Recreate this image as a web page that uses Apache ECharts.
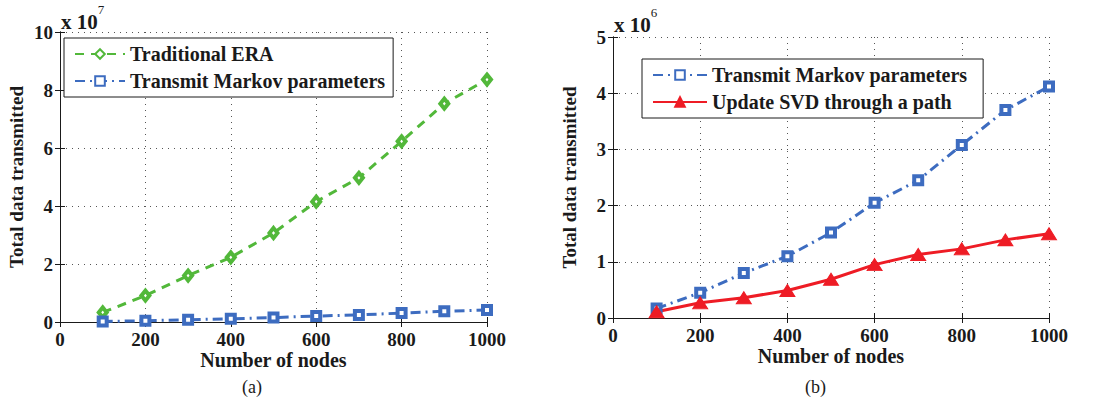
<!DOCTYPE html>
<html><head><meta charset="utf-8">
<script src="https://cdn.jsdelivr.net/npm/echarts@6/dist/echarts.min.js"></script>
<style>html,body{margin:0;padding:0;background:#fff}#c{width:1093px;height:404px}</style>
</head><body><div id="c"></div>
<script>
// ---- data ----
const nodes = [100, 200, 300, 400, 500, 600, 700, 800, 900, 1000];
// panel (a), units of 1e7
const traditionalERA = [0.33, 0.91, 1.60, 2.23, 3.07, 4.15, 4.97, 6.23, 7.53, 8.36];
const markovA = [0.017, 0.045, 0.080, 0.110, 0.152, 0.205, 0.245, 0.308, 0.370, 0.412];
// panel (b), units of 1e6
const markovB = [0.17, 0.45, 0.80, 1.10, 1.52, 2.05, 2.45, 3.08, 3.70, 4.12];
const svdPath = [0.11, 0.27, 0.36, 0.49, 0.69, 0.95, 1.13, 1.23, 1.39, 1.50];
const xTicks = [0, 200, 400, 600, 800, 1000];
const yTicksA = [0, 2, 4, 6, 8, 10];
const yTicksB = [0, 1, 2, 3, 4, 5];

const FONT = '"Liberation Serif","Times New Roman",serif';
const GREEN = '#52b83a', BLUE = '#3d6cc0', RED = '#ee1c25', INK = '#1a1a1a';

function pairs(xs, ys){ return xs.map((x,i)=>[x, ys[i]]); }

const tickLab = {fontFamily: FONT, fontWeight: 'bold', fontSize: 19, color: INK, formatter: v => String(v)};
function xAxisMain(gi){
  return {gridIndex: gi, type: 'value', min: xTicks[0], max: xTicks[xTicks.length-1], interval: 200,
    name: 'Number of nodes', nameLocation: 'middle', nameGap: 28, nameMoveOverlap: false,
    nameTextStyle: {fontFamily: FONT, fontWeight: 'bold', fontSize: 20, color: INK},
    axisLine: {show: true, lineStyle: {color: INK, width: 1}},
    axisTick: {show: true, inside: true, length: 5, lineStyle: {color: INK}},
    axisLabel: Object.assign({margin: 8}, tickLab),
    splitLine: {show: true, lineStyle: {color: '#555', type: [1, 5], width: 1}}};
}
function xAxisTop(gi){
  return {gridIndex: gi, type: 'value', position: 'top', min: xTicks[0], max: xTicks[xTicks.length-1], interval: 200,
    axisLine: {show: true, lineStyle: {color: INK, width: 1}},
    axisTick: {show: true, inside: true, length: 5, lineStyle: {color: INK}},
    axisLabel: {show: false}, splitLine: {show: false}};
}
function yAxisMain(gi, ticks, interval){
  return {gridIndex: gi, type: 'value', min: ticks[0], max: ticks[ticks.length-1], interval: interval,
    name: 'Total data transmitted', nameLocation: 'middle', nameGap: 34, nameRotate: 90, nameMoveOverlap: false,
    nameTextStyle: {fontFamily: FONT, fontWeight: 'bold', fontSize: 19, color: INK},
    axisLine: {show: true, lineStyle: {color: INK, width: 1}},
    axisTick: {show: true, inside: true, length: 5, lineStyle: {color: INK}},
    axisLabel: Object.assign({margin: 7}, tickLab),
    splitLine: {show: true, lineStyle: {color: '#555', type: [1, 5], width: 1}}};
}
function yAxisRight(gi, ticks, interval){
  return {gridIndex: gi, type: 'value', position: 'right', min: ticks[0], max: ticks[ticks.length-1], interval: interval,
    axisLine: {show: true, lineStyle: {color: INK, width: 1}},
    axisTick: {show: true, inside: true, length: 5, lineStyle: {color: INK}},
    axisLabel: {show: false}, splitLine: {show: false}};
}

const legendText = {fontFamily: FONT, fontWeight: 'bold', fontSize: 20, color: INK};

const option = {
  animation: false,
  backgroundColor: '#fff',
  grid: [
    {left: 60, right: 606, top: 32, bottom: 82},
    {left: 613, right: 44, top: 37, bottom: 86}
  ],
  xAxis: [xAxisMain(0), xAxisTop(0), xAxisMain(1), xAxisTop(1)],
  yAxis: [yAxisMain(0, yTicksA, 2), yAxisRight(0, yTicksA, 2), yAxisMain(1, yTicksB, 1), yAxisRight(1, yTicksB, 1)],
  legend: [
    {orient: 'vertical', left: 64, top: 38, padding: [6, 8, 6, 10], itemGap: 7,
     itemWidth: 50, itemHeight: 12, borderColor: INK, borderWidth: 1, backgroundColor: '#fff',
     textStyle: legendText, data: ['Traditional ERA', 'Transmit Markov parameters (a)'],
     formatter: n => n.replace(' (a)', '')},
    {orient: 'vertical', left: 642, top: 59, padding: [6, 16, 6, 10], itemGap: 7,
     itemWidth: 54, itemHeight: 12, borderColor: INK, borderWidth: 1, backgroundColor: '#fff',
     textStyle: legendText, data: ['Transmit Markov parameters', 'Update SVD through a path']}
  ],
  graphic: [
    {type: 'text', left: 61, top: 3, style: {rich: {b: {fontFamily: FONT, fontWeight: 'bold', fontSize: 21, fill: INK, padding: [8,0,0,0]}, s: {fontFamily: FONT, fontSize: 13, fill: INK, verticalAlign: 'top'}}, text: '{b|x 10}{s|7}'}},
    {type: 'text', left: 614, top: 6, style: {rich: {b: {fontFamily: FONT, fontWeight: 'bold', fontSize: 21, fill: INK, padding: [8,0,0,0]}, s: {fontFamily: FONT, fontSize: 13, fill: INK, verticalAlign: 'top'}}, text: '{b|x 10}{s|6}'}},
    {type: 'text', left: 242, top: 378, style: {text: '(a)', fontFamily: FONT, fontSize: 18, fill: INK}},
    {type: 'text', left: 805, top: 378, style: {text: '(b)', fontFamily: FONT, fontSize: 18, fill: INK}}
  ],
  series: [
    {name: 'Traditional ERA', type: 'line', xAxisIndex: 0, yAxisIndex: 0, data: pairs(nodes, traditionalERA),
     symbol: 'diamond', symbolSize: [8, 10], itemStyle: {color: '#fff', borderColor: GREEN, borderWidth: 4},
     lineStyle: {color: GREEN, width: 3, type: [9, 7]}, color: GREEN, z: 3},
    {name: 'Transmit Markov parameters (a)', type: 'line', xAxisIndex: 0, yAxisIndex: 0, data: pairs(nodes, markovA),
     symbol: 'rect', symbolSize: 8, itemStyle: {color: '#fff', borderColor: BLUE, borderWidth: 4},
     lineStyle: {color: BLUE, width: 3, type: [10, 5, 2, 5]}, color: BLUE, z: 3},
    {name: 'Transmit Markov parameters', type: 'line', xAxisIndex: 2, yAxisIndex: 2, data: pairs(nodes, markovB),
     symbol: 'rect', symbolSize: 8, itemStyle: {color: '#fff', borderColor: BLUE, borderWidth: 4},
     lineStyle: {color: BLUE, width: 3, type: [10, 5, 2, 5]}, color: BLUE, z: 3},
    {name: 'Update SVD through a path', type: 'line', xAxisIndex: 2, yAxisIndex: 2, data: pairs(nodes, svdPath),
     symbol: 'triangle', symbolSize: [15, 12], itemStyle: {color: RED, borderColor: RED, borderWidth: 1},
     lineStyle: {color: RED, width: 3}, color: RED, z: 3}
  ]
};
const chart = echarts.init(document.getElementById('c'), null, {renderer: 'svg'});
chart.setOption(option);
</script></body></html>
